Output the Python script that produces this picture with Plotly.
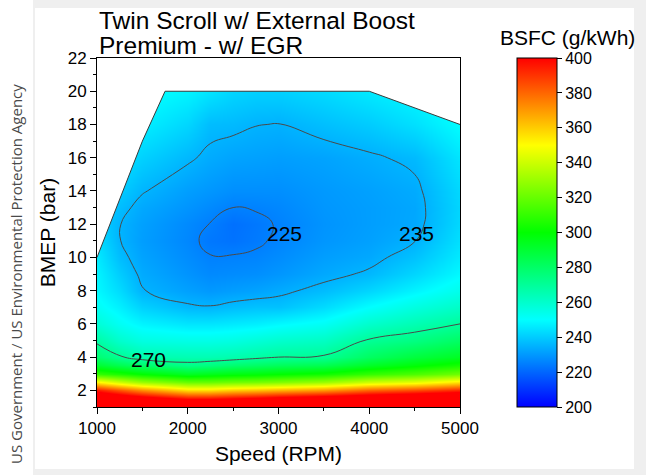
import numpy as np
import plotly.graph_objects as go

# ---------------- data ----------------
speeds = [1000, 1250, 1500, 2000, 2250, 2500, 2750, 3000, 3500, 4000, 4500, 5000]
bmep = [1, 1.5, 2, 2.5, 3, 3.5, 4, 5, 6, 7, 8, 9, 10, 11, 12, 13, 14, 16, 18, 20, 22]

# BSFC (g/kWh) per speed column, listed along bmep
bsfc_1000 = [450, 425, 395, 352, 310, 290, 278, 268, 258, 252, 249, 248, 246, 244, 242, 242, 243, 246, 249, 252, 255]
bsfc_1250 = [450, 418, 383, 340, 305, 284, 271, 260, 252, 247, 243, 240, 237, 235.2, 235.2, 237, 240, 245, 249, 252, 255]
bsfc_1500 = [450, 412, 372, 330, 300, 279, 266, 256, 248, 241, 235.3, 233.5, 232, 231, 231.5, 233, 235.5, 241, 247, 251, 254]
bsfc_2000 = [450, 400, 356, 320, 293, 273, 265, 255, 245, 236, 231.5, 229, 227.5, 226.5, 227, 229, 231, 236, 242, 248, 252]
bsfc_2250 = [450, 400, 356, 320, 295, 275, 265, 255, 245, 235.5, 230, 227, 225.3, 223.5, 224.8, 227, 229.5, 233.5, 237, 245, 250]
bsfc_2500 = [450, 403, 360, 322, 297, 278, 266, 256, 246, 237, 231, 227.5, 225.5, 222.5, 222, 225, 228, 232, 236.5, 242, 247]
bsfc_2750 = [450, 406, 362, 323, 298, 280, 268, 258, 247, 238, 232, 228, 226, 224, 223.5, 225.5, 228, 231.5, 235.2, 241, 246]
bsfc_3000 = [450, 410, 365, 325, 300, 282, 270, 260, 249, 238, 233.5, 229.5, 227.5, 226, 225.5, 226.5, 228, 231, 234.8, 241, 246]
bsfc_3500 = [450, 415, 370, 330, 303, 284, 271, 262, 252, 243, 237, 233, 231, 229.5, 229, 229.5, 230, 232, 237.5, 243, 248]
bsfc_4000 = [450, 420, 380, 340, 310, 292, 281, 271, 260, 250, 242, 236, 233, 231.5, 231, 231, 231.5, 234, 240, 246, 250]
bsfc_4500 = [450, 425, 385, 345, 315, 298, 288, 275, 265, 256, 248, 242, 238, 234.8, 233, 232.8, 233.5, 236.5, 244, 249, 253]
bsfc_5000 = [450, 430, 392, 355, 322, 304, 293, 281, 270, 261, 254, 249, 246, 244, 242.5, 242, 242.5, 245, 250, 254, 257]

# operating-range boundary (upper limit)
boundary_speed = [1000, 1500, 1750, 4000, 5000]
boundary_bmep = [10, 17, 20, 20, 18]

# labelled contour levels and label positions
contour_levels = [225, 235, 270]
label_speed = [3070, 4520, 1565]
label_bmep = [11.45, 11.45, 3.83]

x_ticks = [1000, 2000, 3000, 4000, 5000]
y_ticks = [2, 4, 6, 8, 10, 12, 14, 16, 18, 20, 22]
cbar_ticks = [200, 220, 240, 260, 280, 300, 320, 340, 360, 380, 400]

title_lines = ["Twin Scroll w/ External Boost", "Premium - w/ EGR"]

# ---------------- figure ----------------
W, H = 646, 475
L, R, T, B = 97, 186, 58, 68
PW, PH = W - L - R, H - T - B


def px(x):
    return (x - L) / PW


def py(y):
    return (H - B - y) / PH


z = np.array([bsfc_1000, bsfc_1250, bsfc_1500, bsfc_2000, bsfc_2250, bsfc_2500,
              bsfc_2750, bsfc_3000, bsfc_3500, bsfc_4000, bsfc_4500, bsfc_5000]).T

jet = [[0.0, "rgb(0,0,255)"], [0.25, "rgb(0,255,255)"], [0.5, "rgb(0,255,0)"],
       [0.75, "rgb(255,255,0)"], [1.0, "rgb(255,0,0)"]]

fig = go.Figure()

fig.add_trace(go.Heatmap(
    x=speeds, y=bmep, z=z, zmin=200, zmax=400, colorscale=jet, zsmooth="best",
    hoverinfo="skip",
    colorbar=dict(
        thickness=40, thicknessmode="pixels", len=1, lenmode="fraction",
        x=px(517), xanchor="left", xpad=0, y=0.5, yanchor="middle", ypad=0,
        outlinecolor="black", outlinewidth=1,
        ticks="outside", ticklen=5, tickcolor="black", tickvals=cbar_ticks,
        tickfont=dict(family="Liberation Sans, Arial", size=16, color="black"),
    ),
))

for lev in contour_levels:
    fig.add_trace(go.Contour(
        x=speeds, y=bmep, z=z, showscale=False, hoverinfo="skip",
        contours=dict(start=lev, end=lev, size=10, coloring="none"),
        line=dict(color="#4a4a4a", width=1, smoothing=1.3),
    ))

# mask outside the operating range
fig.add_trace(go.Scatter(
    x=boundary_speed + [5000, 1000], y=boundary_bmep + [22, 22],
    fill="toself", fillcolor="white", mode="lines", line=dict(width=0),
    hoverinfo="skip", showlegend=False,
))
fig.add_trace(go.Scatter(
    x=boundary_speed, y=boundary_bmep, mode="lines",
    line=dict(color="#3a3a3a", width=1), hoverinfo="skip", showlegend=False,
))

font = "Liberation Sans, Arial, sans-serif"
ann = []
for lev, sx, sy in zip(contour_levels, label_speed, label_bmep):
    ann.append(dict(x=sx, y=sy, xref="x", yref="y", text=str(lev), showarrow=False,
                    font=dict(family=font, size=21, color="black")))

ann.append(dict(x=px(97), y=py(20), xref="paper", yref="paper", xanchor="left", yanchor="middle",
                text=title_lines[0], showarrow=False, font=dict(family=font, size=24.5, color="black")))
ann.append(dict(x=px(97), y=py(45), xref="paper", yref="paper", xanchor="left", yanchor="middle",
                text=title_lines[1], showarrow=False, font=dict(family=font, size=24.5, color="black")))
ann.append(dict(x=px(567), y=py(38), xref="paper", yref="paper", xanchor="center", yanchor="middle",
                text="BSFC (g/kWh)", showarrow=False, font=dict(family=font, size=21, color="black")))
ann.append(dict(x=px(16), y=py(274), xref="paper", yref="paper", xanchor="center", yanchor="middle",
                text="US Government / US Environmental Protection Agency", textangle=-90,
                showarrow=False, font=dict(family="Open Sans, sans-serif", size=15, color="#4a4a4a")))

shapes = [
    dict(type="rect", xref="paper", yref="paper", x0=px(35), x1=px(634), y0=py(469), y1=py(8),
         fillcolor="white", line=dict(width=0), layer="below"),
    dict(type="rect", xref="paper", yref="paper", x0=px(-2), x1=px(33), y0=py(H + 2), y1=py(-2),
         fillcolor="white", line=dict(width=0), layer="below"),
]

axis_common = dict(showgrid=False, zeroline=False, showline=True, linecolor="black", linewidth=1,
                   mirror=True, ticks="outside", ticklen=6, tickcolor="black",
                   tickfont=dict(family=font, size=17, color="black"))

fig.update_layout(
    width=W, height=H, autosize=False,
    margin=dict(l=L, r=R, t=T, b=B, pad=0),
    paper_bgcolor="#efefef", plot_bgcolor="white",
    showlegend=False,
    xaxis=dict(range=[1000, 5000], tickvals=x_ticks,
               minor=dict(dtick=500, ticklen=3, ticks="outside", tickcolor="black"),
               title=dict(text="Speed (RPM)", font=dict(family=font, size=21, color="black"), standoff=8),
               **axis_common),
    yaxis=dict(range=[1, 22], tickvals=y_ticks,
               minor=dict(dtick=1, tick0=1, ticklen=3, ticks="outside", tickcolor="black"),
               title=dict(text="BMEP (bar)", font=dict(family=font, size=21, color="black"), standoff=6),
               **axis_common),
    annotations=ann, shapes=shapes,
)

fig.write_html("out.html")
